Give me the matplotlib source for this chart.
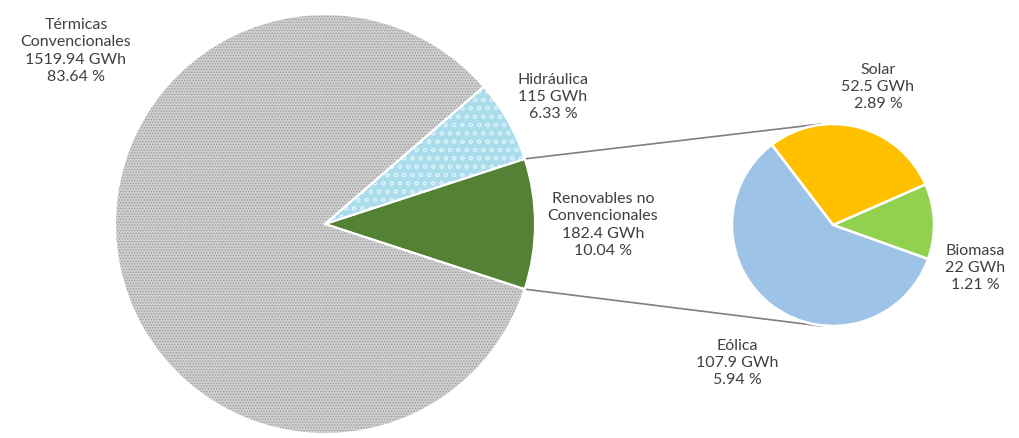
import numpy as np
import matplotlib.pyplot as plt

# main pie
main_labels = ["Térmicas\nConvencionales", "Hidráulica", "Renovables no\nConvencionales"]
main_gwh = [1519.94, 115, 182.4]
main_pct = [83.64, 6.33, 10.04]

# breakdown of renewables
sub_labels = ["Biomasa", "Solar", "Eólica"]
sub_gwh = [22, 52.5, 107.9]
sub_pct = [1.21, 2.89, 5.94]

main_colors = ["#cfcfcf", "#aadcec", "#548235"]
hatch_colors = ["#999999", "#dff3fa", "#548235"]
hatches = ["......", "oo", None]
sub_colors = ["#92d050", "#ffc000", "#9dc3e6"]
text_color = "#404040"

plt.rcParams["font.family"] = ["Lato", "DejaVu Sans"]
plt.rcParams["hatch.linewidth"] = 0.6

H = 438
fig = plt.figure(figsize=(10.19, 4.38), dpi=100)
ax = fig.add_axes([0, 0, 1, 1])

c1 = (325, H - 224)
r1 = 210
green_span = main_pct[2] / 100 * 360

# order counterclockwise: Renovables, Hidráulica, Térmicas
order = [2, 1, 0]
wedges, _ = ax.pie([main_gwh[i] for i in order], colors=[main_colors[i] for i in order],
                   center=c1, radius=r1, startangle=-green_span / 2, counterclock=True,
                   wedgeprops=dict(linewidth=0))
for w, i in zip(wedges, order):
    w.set_edgecolor(hatch_colors[i])
    if hatches[i]:
        w.set_hatch(hatches[i])
ax.pie([main_gwh[i] for i in order], colors=["none"] * 3, center=c1, radius=r1,
       startangle=-green_span / 2, counterclock=True,
       wedgeprops=dict(edgecolor="white", linewidth=1.5, fill=False))

c2 = (833, H - 225)
r2 = 101
sub_start = -19.7
ax.pie(sub_gwh, colors=sub_colors, center=c2, radius=r2, startangle=sub_start,
       counterclock=True, wedgeprops=dict(edgecolor="white", linewidth=1.8))

# connector lines from green slice edges to second pie
a = np.deg2rad(green_span / 2)
p_top = (c1[0] + r1 * np.cos(a), c1[1] + r1 * np.sin(a))
p_bot = (c1[0] + r1 * np.cos(a), c1[1] - r1 * np.sin(a))
ax.plot([p_top[0], c2[0] - 12], [p_top[1], c2[1] + r2], color="#7f7f7f", lw=1.2, zorder=0)
ax.plot([p_bot[0], c2[0] - 12], [p_bot[1], c2[1] - r2], color="#7f7f7f", lw=1.2, zorder=0)

fs = 11.5
def lab(x, y, name, gwh, pct):
    ax.text(x, H - y, f"{name}\n{gwh:g} GWh\n{pct:.2f} %", ha="center", va="center",
            fontsize=fs, color=text_color, linespacing=1.3)

lab(76, 51, main_labels[0], main_gwh[0], main_pct[0])
lab(553, 97, main_labels[1], main_gwh[1], main_pct[1])
lab(603, 225, main_labels[2], main_gwh[2], main_pct[2])
lab(878, 87, sub_labels[1], sub_gwh[1], sub_pct[1])
lab(975, 268, sub_labels[0], sub_gwh[0], sub_pct[0])
lab(737, 363, sub_labels[2], sub_gwh[2], sub_pct[2])

ax.set_xlim(0, 1019)
ax.set_ylim(0, H)
ax.set_aspect("equal")
ax.axis("off")

fig.savefig("out.png", dpi=100)
